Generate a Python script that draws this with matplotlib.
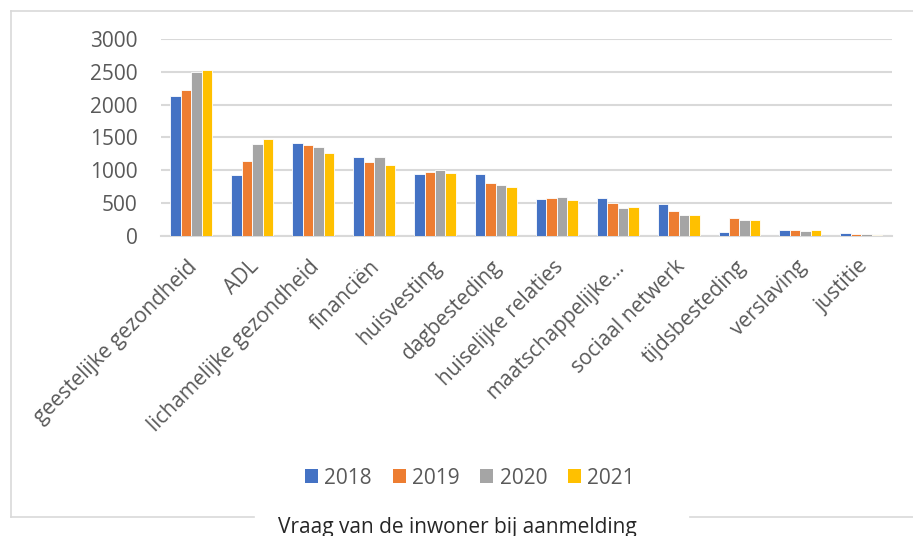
import matplotlib.pyplot as plt
import matplotlib.transforms as mtransforms
import numpy as np
from matplotlib.lines import Line2D
from matplotlib.patches import Patch

plt.rcParams['font.family'] = ['Open Sans', 'DejaVu Sans']

categories = ['geestelijke gezondheid', 'ADL', 'lichamelijke gezondheid', 'financiën',
              'huisvesting', 'dagbesteding', 'huiselijke relaties', 'maatschappelijke…',
              'sociaal netwerk', 'tijdsbesteding', 'verslaving', 'justitie']
years = ['2018', '2019', '2020', '2021']
v2018 = [2140, 932, 1416, 1202, 947, 947, 555, 574, 477, 51, 82, 41]
v2019 = [2226, 1136, 1385, 1126, 978, 800, 574, 503, 379, 267, 82, 31]
v2020 = [2496, 1401, 1350, 1202, 1003, 770, 590, 421, 313, 241, 72, 26]
v2021 = [2531, 1472, 1258, 1080, 962, 744, 544, 441, 318, 236, 87, 15]
colors = ['#4472c4', '#ed7d31', '#a5a5a5', '#ffc000']

txt = '#595959'
grid = '#d9d9d9'
fs = 15

fig = plt.figure(figsize=(9.13, 5.36), dpi=100)
ax = fig.add_axes([0.1763, 0.5603, 0.8004, 0.3664])

x = np.arange(len(categories))
w = 0.172
for i, vals in enumerate([v2018, v2019, v2020, v2021]):
    ax.bar(x + (i - 1.5) * w, vals, w, color=colors[i], edgecolor='white', linewidth=0.6, zorder=3)

ax.set_xlim(-0.5, len(categories) - 0.5)
ax.set_ylim(0, 3000)
ax.set_yticks(range(0, 3001, 500))
ax.yaxis.grid(True, color=grid, linewidth=1.5, zorder=0)
ax.set_axisbelow(True)
for s in ['top', 'right', 'left']:
    ax.spines[s].set_visible(False)
ax.spines['bottom'].set_color(grid)
ax.spines['bottom'].set_linewidth(1.5)
ax.tick_params(axis='both', length=0, labelsize=fs, labelcolor=txt)
ax.tick_params(axis='y', pad=16.8)
ax.set_xticks(x)
ax.set_xticklabels(categories, rotation=45, ha='right', va='baseline',
                   rotation_mode='anchor')
ax.tick_params(axis='x', pad=23)
shift = mtransforms.ScaledTranslation(7 / 100, 0, fig.dpi_scale_trans)
for lab in ax.get_xticklabels():
    lab.set_transform(lab.get_transform() + shift)

# legend
handles = [Patch(facecolor=c, edgecolor='none', label=y) for c, y in zip(colors, years)]
fig.legend(handles=handles, loc='center', bbox_to_anchor=(470 / 913, 1 - 478 / 536),
           ncol=4, frameon=False, fontsize=fs, labelcolor=txt,
           handlelength=0.62, handleheight=0.62, handletextpad=0.3, columnspacing=1.0)

# chart border with a gap for the axis title
W, H = 913, 536
def seg(x0, y0, x1, y1):
    fig.add_artist(Line2D([x0 / W, x1 / W], [1 - y0 / H, 1 - y1 / H], color=grid, linewidth=1.2))
seg(11, 10.7, 913, 10.7)
seg(11, 10.7, 11, 516.7)
seg(11, 516.7, 254, 516.7)
seg(690, 516.7, 913, 516.7)

fig.text(457 / W, 1 - 527 / H, 'Vraag van de inwoner bij aanmelding', ha='center', va='center',
         fontsize=fs, color='#262626')

fig.savefig('out.png', dpi=100)
